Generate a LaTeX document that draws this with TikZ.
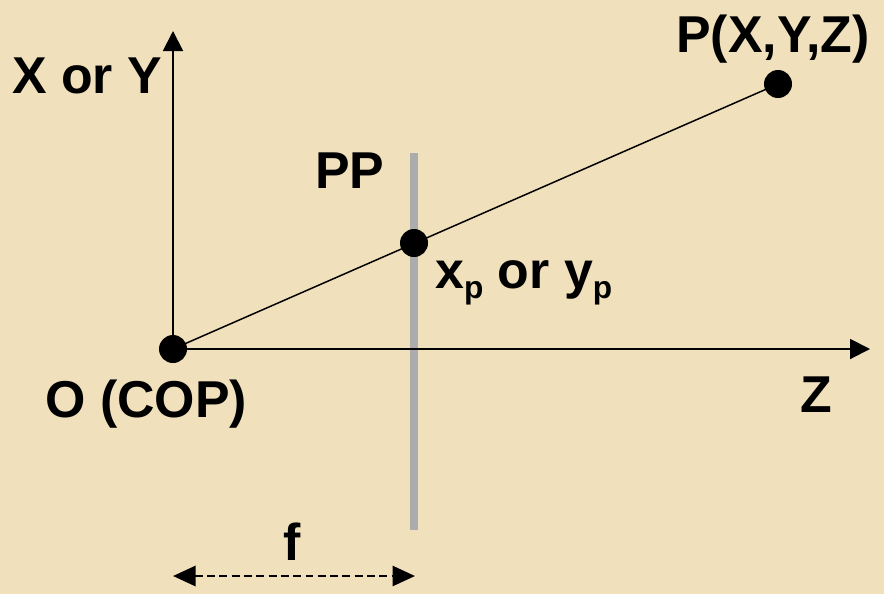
\documentclass[tikz,border=0pt]{standalone}
\usepackage{fontspec}
\setmainfont{Liberation Sans}
\usetikzlibrary{arrows.meta,positioning}
\definecolor{parch}{RGB}{240,225,188}
\newcommand{\subp}{\raisebox{-6pt}{\fontsize{18}{20}\selectfont p}}
\tikzset{
  dot/.style={circle,fill=black,minimum size=5.6mm,inner sep=0pt},
  axis/.style={-{Triangle[length=4mm,width=4mm]},line width=1.1pt},
  dim/.style={{Triangle[length=4.5mm,width=4mm]}-{Triangle[length=4.5mm,width=4mm]},line width=1.6pt,dash pattern=on 4.5pt off 2.5pt},
  lbl/.style={inner sep=0pt,anchor=base west,font=\fontsize{29.5}{34}\selectfont\bfseries}
}
\begin{document}
\begin{tikzpicture}
  \fill[parch] (0,0) rectangle (17.68,11.88);
  \useasboundingbox (0,0) rectangle (17.68,11.88);
  % projection plane (grey)
  \draw[line width=4.5pt,gray!65] (8.28,8.82) coordinate (pptop) -- (8.28,1.28) coordinate (ppbot);
  % axes from the centre of projection
  \node[dot] (O) at (3.46,4.90) {};
  \coordinate (ytip) at (3.46,11.26);
  \coordinate (ztip) at (17.40,4.90);
  \draw[axis] (O.center) -- (ytip);
  \draw[axis] (O.center) -- (ztip);
  % ray O -> P, image point on PP
  \node[dot] (P) at (15.56,10.20) {};
  \draw[line width=0.85pt] (O.center) -- (P.center);
  \node[dot] (xp) at (8.28,7.02) {};
  % focal length
  \coordinate (fl) at (3.46,0.36);
  \coordinate (fr) at (8.30,0.36);
  \draw[dim] (fl) -- (fr);
  % labels
  \node[lbl] (lY) at (0.24,10.02) {X or Y};
  \node[lbl] (lP) at (13.52,10.84) {P(X,Y,Z)};
  \node[lbl] (lPP) at (6.30,8.12) {PP};
  \node[lbl] (lxp) at (8.70,6.12) {x\subp\ or y\subp};
  \node[lbl] (lO) at (0.90,3.54) {O (COP)};
  \node[lbl] (lZ) at (16.00,3.64) {Z};
  \node[lbl,anchor=base] (lf) at (5.84,0.68) {f};
\end{tikzpicture}
\end{document}
